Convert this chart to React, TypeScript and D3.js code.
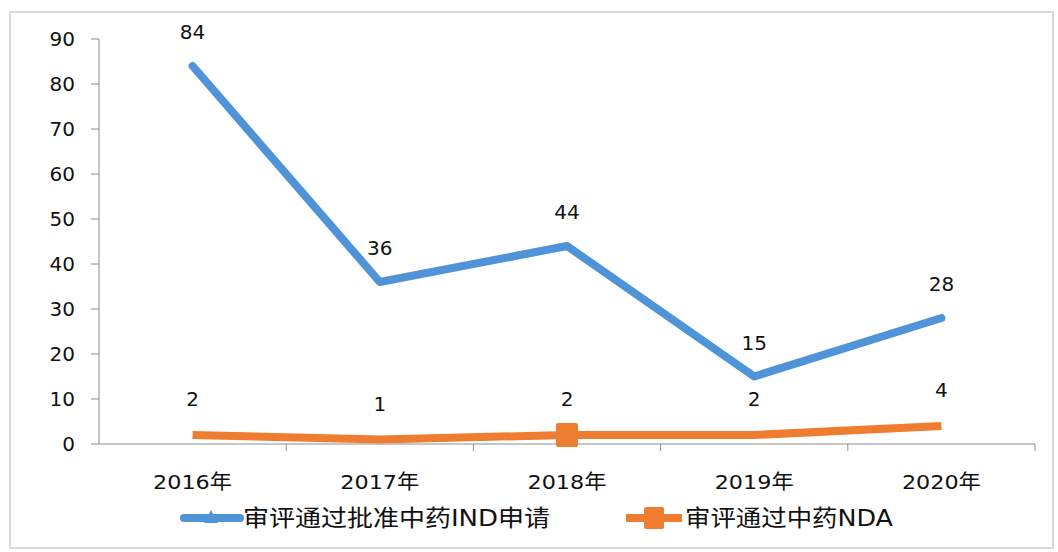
import React from "react";
import * as d3 from "d3";

const categories = ["2016年", "2017年", "2018年", "2019年", "2020年"];
const indValues = [84, 36, 44, 15, 28];
const ndaValues = [2, 1, 2, 2, 4];
const yTicks = [0, 10, 20, 30, 40, 50, 60, 70, 80, 90];
const seriesNames = ["审评通过批准中药IND申请", "审评通过中药NDA"];

const W = 1058;
const H = 552;
const FONT = "'DejaVu Sans', 'Noto Sans CJK SC', sans-serif";
const BLUE = "#4f93d8";
const ORANGE = "#ee7d30";

export default function App() {
  const x = d3.scaleBand<string>().domain(categories).range([99, 1035]);
  const y = d3.scaleLinear().domain([0, 90]).range([444, 39]);
  const cx = (c: string) => (x(c) ?? 0) + x.bandwidth() / 2;
  const line = d3
    .line<number>()
    .x((_, i) => cx(categories[i]))
    .y((d) => y(d));

  return (
    <svg
      width={W}
      height={H}
      style={{ position: "absolute", left: 0, top: 0, background: "#fff" }}
      fontFamily={FONT}
    >
      <rect x={10} y={12} width={1043} height={536} fill="#fff" stroke="#d9d9d9" strokeWidth={2} />
      {/* y axis */}
      <line x1={99} x2={99} y1={y(90)} y2={y(0)} stroke="#8c8c8c" strokeWidth={1} />
      {yTicks.map((t) => (
        <g key={t}>
          <line x1={91} x2={99} y1={y(t)} y2={y(t)} stroke="#8c8c8c" />
          <text x={75} y={y(t)} dy="0.36em" textAnchor="end" fontSize={20} fill="#111">
            {t}
          </text>
        </g>
      ))}
      {/* x axis */}
      <line x1={99} x2={1035} y1={y(0)} y2={y(0)} stroke="#8c8c8c" />
      {categories.map((c) => (
        <line
          key={c}
          x1={(x(c) ?? 0) + x.bandwidth()}
          x2={(x(c) ?? 0) + x.bandwidth()}
          y1={y(0)}
          y2={y(0) + 7}
          stroke="#8c8c8c"
        />
      ))}
      {categories.map((c) => (
        <text
          key={c}
          x={cx(c)}
          y={482}
          dy="0.36em"
          textAnchor="middle"
          fontSize={20}
          fill="#111"
          textLength={79}
          lengthAdjust="spacingAndGlyphs"
        >
          {c}
        </text>
      ))}
      {/* lines */}
      <path d={line(indValues) ?? ""} fill="none" stroke={BLUE} strokeWidth={8} strokeLinejoin="round" strokeLinecap="round" />
      <path d={line(ndaValues) ?? ""} fill="none" stroke={ORANGE} strokeWidth={8} strokeLinejoin="round" />
      <rect x={cx(categories[2]) - 11} y={y(ndaValues[2]) - 12} width={22} height={24} fill={ORANGE} rx={2} />
      {/* labels */}
      {indValues.map((v, i) => (
        <text key={"i" + i} x={cx(categories[i])} y={y(v) - 34} dy="0.36em" textAnchor="middle" fontSize={20} fill="#111">
          {v}
        </text>
      ))}
      {ndaValues.map((v, i) => (
        <text key={"n" + i} x={cx(categories[i])} y={y(v) - 36} dy="0.36em" textAnchor="middle" fontSize={20} fill="#111">
          {v}
        </text>
      ))}
      {/* legend */}
      <g>
        <line x1={184} x2={240} y1={518} y2={518} stroke={BLUE} strokeWidth={8} strokeLinecap="round" />
        <path d="M204,523 L211,510 L218,523 Z" fill={BLUE} />
        <text
          x={243}
          y={518}
          dy="0.36em"
          fontSize={23}
          fill="#111"
          textLength={307}
          lengthAdjust="spacingAndGlyphs"
        >
          {seriesNames[0]}
        </text>
        <line x1={626} x2={682} y1={518} y2={518} stroke={ORANGE} strokeWidth={8} />
        <rect x={644} y={507} width={20} height={22} fill={ORANGE} rx={2} />
        <text
          x={685}
          y={518}
          dy="0.36em"
          fontSize={23}
          fill="#111"
          textLength={208}
          lengthAdjust="spacingAndGlyphs"
        >
          {seriesNames[1]}
        </text>
      </g>
    </svg>
  );
}
